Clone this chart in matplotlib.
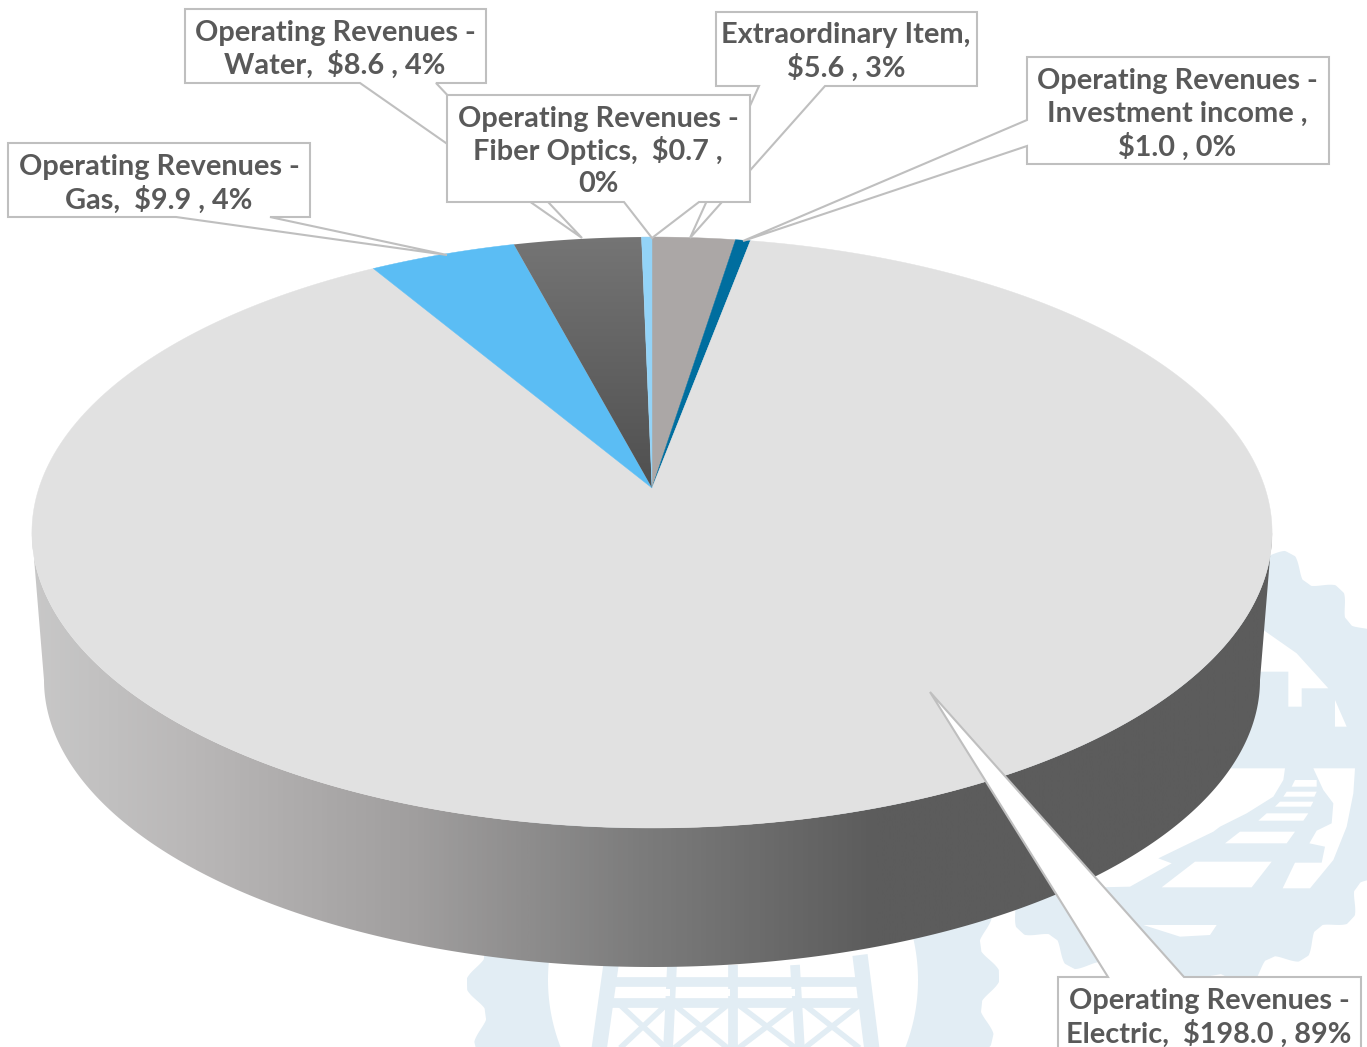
# 3D-look pie of operating revenues with callout labels
import numpy as np
import matplotlib
matplotlib.use("Agg")
import matplotlib.pyplot as plt
from matplotlib.colors import LinearSegmentedColormap
from matplotlib.patches import Polygon

# data, clockwise from 12 o'clock
names = ["Extraordinary Item", "Operating Revenues - Investment income", "Operating Revenues - Electric",
         "Operating Revenues - Gas", "Operating Revenues - Water", "Operating Revenues - Fiber Optics"]
values = [5.6, 1.0, 198.0, 9.9, 8.6, 0.7]
percents = [3, 0, 89, 4, 4, 0]
colors = ["#aba7a6", "#006e9f", "#e1e1e1", "#5bbdf4", "#666666", "#93d3f7"]

W, H = 1367, 1047
plt.rcParams["font.family"] = ["Lato", "DejaVu Sans"]

fig = plt.figure(figsize=(W / 100, H / 100), dpi=100)
ax = fig.add_axes([0, 0, 1, 1])
ax.set_xlim(0, W)
ax.set_ylim(H, 0)
ax.axis("off")

# perspective of the pie top, unit circle to pixels
CX, CY = 652, 488
A, D, K = 613, -215.3, 0.1506


def project(theta):
    u, v = np.sin(theta), np.cos(theta)
    w = 1 + K * v
    return CX + A * u / w, (CY + D * v) / w


# faint logo behind the chart
LOGO = "#e2edf4"


def gear(cx, cy, r, teeth, amp, phase=0.0):
    t = np.linspace(0, 2 * np.pi, 1500)
    rr = r + amp * np.clip(1.2 * np.cos(teeth * t + phase), -1, 1)
    return np.column_stack([cx + rr * np.cos(t), cy + rr * np.sin(t)])


def shape(pts, color=LOGO, z=1):
    ax.add_patch(Polygon(pts, closed=True, fc=color, ec="none", zorder=z))


# left gear ring with tower
shape(gear(733, 980, 258, 26, 8, 0.4))
shape(gear(733, 980, 185, 1, 0), "white", 1.1)
for x0, y0, x1, y1, lw in [(611, 965, 599, 1050, 11), (860, 955, 872, 1050, 11),
                           (672, 965, 668, 1050, 7), (733, 965, 733, 1050, 7), (795, 965, 800, 1050, 7),
                           (612, 982, 860, 982, 7), (606, 1003, 866, 1003, 7),
                           (618, 1003, 668, 1050, 4), (668, 1003, 618, 1050, 4),
                           (672, 1003, 730, 1050, 4), (730, 1003, 672, 1050, 4),
                           (736, 1003, 798, 1050, 4), (798, 1003, 736, 1050, 4),
                           (802, 1003, 862, 1050, 4), (862, 1003, 802, 1050, 4)]:
    ax.plot([x0, x1], [y0, y1], color=LOGO, lw=lw, solid_capstyle="butt", zorder=1.2)
for bx in [(620, 670), (680, 730), (740, 795), (805, 855)]:
    shape([(bx[0], 989), (bx[1], 989), (bx[1], 996), (bx[0], 996)], "white", 1.3)

# right gear with rails; cut-outs are in zoomed crop units
shape(gear(1180, 760, 226, 24, 8, 0.8))


def cut(pts):
    pts = np.array(pts, dtype=float)
    shape(np.column_stack([1120 + pts[:, 0] / 3, 550 + pts[:, 1] / 3]), "white", 1.1)


cut([(430, 240), (530, 310), (625, 415), (545, 415), (545, 470), (505, 470), (505, 365), (420, 365)])
cut([(645, 450), (680, 530), (645, 530)])
cut([(125, 1012), (225, 935), (455, 935), (395, 1012)])
cut([(315, 880), (360, 845), (525, 845), (500, 880)])
cut([(415, 812), (440, 790), (565, 790), (550, 812)])
cut([(465, 770), (480, 755), (580, 755), (572, 770)])
cut([(490, 740), (500, 725), (590, 725), (583, 740)])
cut([(515, 710), (525, 690), (590, 690), (590, 710)])
cut([(580, 655), (705, 655), (700, 730), (680, 830), (640, 930), (570, 1015), (488, 1015), (525, 938),
     (605, 938), (615, 890), (568, 880), (590, 842), (635, 820), (640, 760), (610, 720)])
cut([(-200, 655), (495, 655), (490, 690), (460, 740), (380, 790), (300, 830), (280, 845), (115, 925),
     (155, 940), (30, 1010), (-200, 1015)])
cut([(70, 1125), (290, 1125), (270, 1155), (180, 1160)])

# side wall, gradient clipped to the band between top and bottom rim
rim = np.linspace(0, 2 * np.pi, 800)
rim_x, rim_y = project(rim)
low = rim_y >= 532
order = np.argsort(rim_x[low])
upper_edge = np.column_stack([rim_x[low][order], rim_y[low][order]])
s = np.linspace(0, np.pi, 400)
lower_edge = np.column_stack([652 + 608 * np.cos(s), 680 + 287 * np.sin(s)])
wall_pts = np.vstack([upper_edge, lower_edge])
wall_cmap = LinearSegmentedColormap.from_list(
    "wall", [(0, "#c8c8c8"), (0.14, "#b8b6b6"), (0.31, "#a09e9e"), (0.49, "#7c7c7c"), (0.68, "#5c5c5c"), (1, "#5c5c5c")])
grad = np.linspace(0, 1, 1300).reshape(1, -1)
im = ax.imshow(grad, cmap=wall_cmap, extent=(30, 1275, 970, 530), aspect="auto", zorder=2)
im.set_clip_path(Polygon(wall_pts, closed=True, transform=ax.transData))
ax.set_xlim(0, W)
ax.set_ylim(H, 0)

# pie top
total = sum(values)
start = 0.0
for name, val, col in zip(names, values, colors):
    end = start + val / total * 2 * np.pi
    th = np.linspace(start, end, max(int(val * 8), 30))
    xs, ys = project(th)
    pts = np.vstack([[CX, CY], np.column_stack([xs, ys])])
    if name.endswith("Water"):
        # darker towards the centre
        water = LinearSegmentedColormap.from_list("water", ["#757575", "#4f4f4f"])
        wim = ax.imshow(np.linspace(0, 1, 256).reshape(-1, 1), cmap=water, extent=(500, 660, 490, 235),
                        aspect="auto", zorder=3)
        wim.set_clip_path(Polygon(pts, closed=True, transform=ax.transData))
    else:
        ax.add_patch(Polygon(pts, closed=True, fc=col, ec=col, lw=0.3, zorder=3))
    start = end
ax.set_xlim(0, W)
ax.set_ylim(H, 0)

# label boxes: outline includes the pointer so the base stays open
EDGE = "#bfbfbf"
TEXT = "#595959"
layout = [
    # slice index, outline, text centre x, line y's, text lines
    (3, [(8, 143), (310, 143), (310, 217), (270, 217), (447, 255), (176, 217), (8, 217)],
     159, [166, 198], ["Operating Revenues -", "Gas,  ${v} , {p}%"]),
    (4, [(185, 9), (486, 9), (486, 83), (436, 83), (582, 238), (360, 83), (185, 83)],
     335, [31, 63], ["Operating Revenues -", "Water,  ${v} , {p}%"]),
    (0, [(716, 12), (977, 12), (977, 86), (825, 86), (690, 238), (759, 86), (716, 86)],
     846, [34, 66], ["Extraordinary Item,", "${v} , {p}%"]),
    (1, [(1027, 57), (1329, 57), (1329, 164), (1027, 164), (1027, 146), (743, 241), (1027, 120)],
     1177, [80, 112, 145], ["Operating Revenues -", "Investment income ,", "${v} , {p}%"]),
    (5, [(447, 95), (750, 95), (750, 202), (699, 202), (652, 238), (624, 202), (447, 202)],
     598, [117, 149, 182], ["Operating Revenues -", "Fiber Optics,  ${v} ,", "{p}%"]),
    (2, [(1058, 977), (1108, 977), (930, 692), (1184, 977), (1361, 977), (1361, 1060), (1058, 1060)],
     1209, [999, 1032], ["Operating Revenues -", "Electric,  ${v} , {p}%"]),
]
for z, (idx, outline, tx, tys, lines) in enumerate(layout):
    ax.add_patch(Polygon(outline, closed=True, fc="white", ec=EDGE, lw=1.5, zorder=4 + z * 0.1))
    for ty, line in zip(tys, lines):
        ax.text(tx, ty + 1.5, line.replace("{v}", f"{values[idx]:.1f}").replace("{p}", str(percents[idx])),
                ha="center", va="center", fontsize=20.8, fontweight="bold", color=TEXT, zorder=4.05 + z * 0.1)

fig.savefig("out.png", dpi=100)
